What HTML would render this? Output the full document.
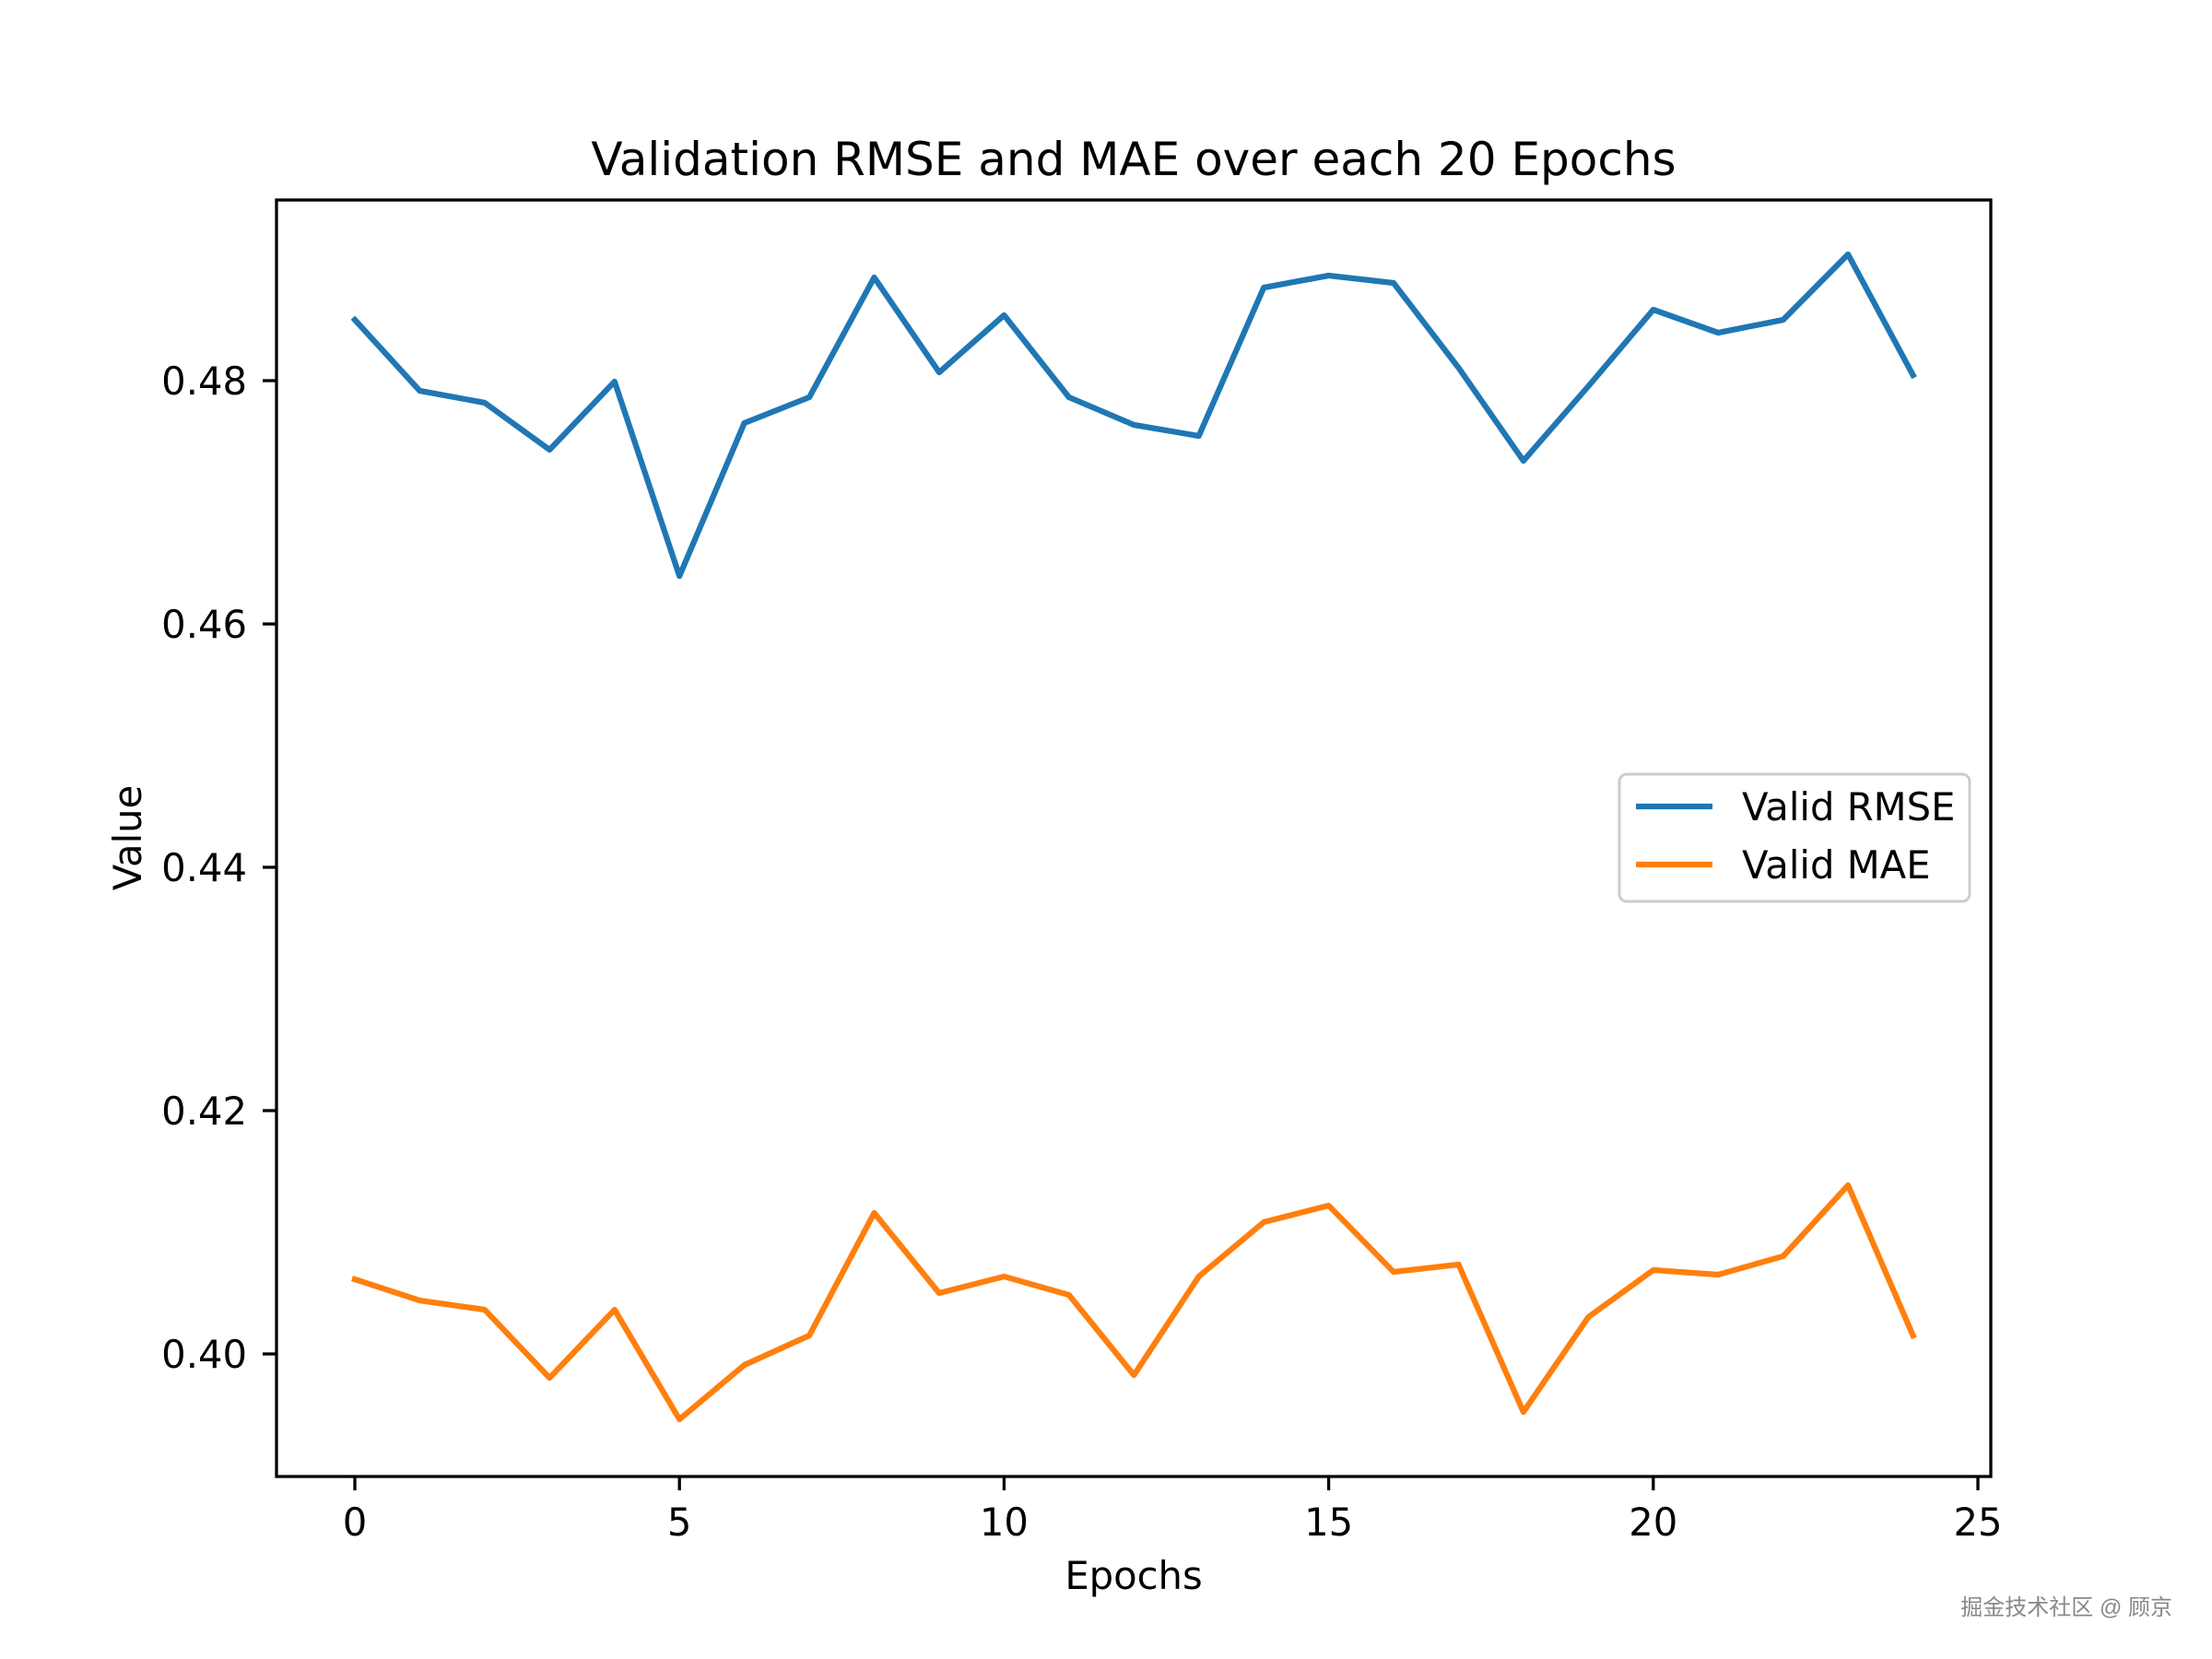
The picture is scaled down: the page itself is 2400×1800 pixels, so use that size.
<!DOCTYPE html>
<html><head><meta charset="utf-8"><style>
html,body{margin:0;padding:0;background:#fff;}
svg{display:block;}
text{font-family:"DejaVu Sans","Liberation Sans",sans-serif;fill:#000;}
</style></head><body>
<svg width="2400" height="1800" viewBox="0 0 2400 1800" xmlns="http://www.w3.org/2000/svg">
<rect width="2400" height="1800" fill="#fff"/>
<text x="1230" y="190" font-size="50" text-anchor="middle">Validation RMSE and MAE over each 20 Epochs</text>
<g fill="none" stroke-linejoin="round" stroke-linecap="square" stroke-width="6.25">
<polyline stroke="#1f77b4" points="385,347 455.4,424 525.9,437 596.3,488 666.8,414 737.2,625 807.6,459 878.1,431 948.5,301 1019,404 1089.4,342 1159.8,431 1230.3,461 1300.7,473 1371.2,312 1441.6,299 1512,307 1582.5,399 1652.9,500 1723.4,419 1793.8,336 1864.2,361 1934.7,347 2005.1,276 2075.6,407"/>
<polyline stroke="#ff7f0e" points="385,1388 455.4,1411 525.9,1421 596.3,1495 666.8,1421 737.2,1540 807.6,1481 878.1,1449 948.5,1316 1019,1403 1089.4,1385 1159.8,1405 1230.3,1492 1300.7,1385 1371.2,1326 1441.6,1308 1512,1380 1582.5,1372 1652.9,1532 1723.4,1429 1793.8,1378 1864.2,1383 1934.7,1363 2005.1,1286 2075.6,1449"/>
</g>
<rect x="300" y="217" width="1860" height="1385" fill="none" stroke="#000" stroke-width="3.3"/>
<g stroke="#000" stroke-width="3.3">
<line x1="385" y1="1602" x2="385" y2="1617"/>
<line x1="737.2" y1="1602" x2="737.2" y2="1617"/>
<line x1="1089.4" y1="1602" x2="1089.4" y2="1617"/>
<line x1="1441.6" y1="1602" x2="1441.6" y2="1617"/>
<line x1="1793.8" y1="1602" x2="1793.8" y2="1617"/>
<line x1="2146" y1="1602" x2="2146" y2="1617"/>
<line x1="285" y1="1469" x2="300" y2="1469"/>
<line x1="285" y1="1205" x2="300" y2="1205"/>
<line x1="285" y1="941" x2="300" y2="941"/>
<line x1="285" y1="677" x2="300" y2="677"/>
<line x1="285" y1="413" x2="300" y2="413"/>
</g>
<g font-size="41.7" text-anchor="middle">
<text x="385" y="1666">0</text>
<text x="737.2" y="1666">5</text>
<text x="1089.4" y="1666">10</text>
<text x="1441.6" y="1666">15</text>
<text x="1793.8" y="1666">20</text>
<text x="2146" y="1666">25</text>
</g>
<g font-size="41.7" text-anchor="end">
<text x="268" y="1484">0.40</text>
<text x="268" y="1220">0.42</text>
<text x="268" y="956">0.44</text>
<text x="268" y="692">0.46</text>
<text x="268" y="428">0.48</text>
</g>
<text x="1230" y="1724" font-size="41.7" text-anchor="middle">Epochs</text>
<text transform="translate(153,909) rotate(-90)" font-size="41.7" text-anchor="middle">Value</text>
<rect x="1757" y="840" width="380" height="138" rx="8" fill="#fff" fill-opacity="0.8" stroke="#ccc" stroke-width="3"/>
<line x1="1775" y1="875" x2="1858" y2="875" stroke="#1f77b4" stroke-width="6.25"/>
<line x1="1775" y1="938" x2="1858" y2="938" stroke="#ff7f0e" stroke-width="6.25"/>
<text x="1890" y="890" font-size="41.7">Valid RMSE</text>
<text x="1890" y="953" font-size="41.7">Valid MAE</text>
<text x="2357" y="1752" font-size="24" fill="#888" style="fill:#888;font-family:'Liberation Sans','Noto Sans CJK SC',sans-serif" text-anchor="end">掘金技术社区 @ 顾京</text>
</svg>
</body></html>
